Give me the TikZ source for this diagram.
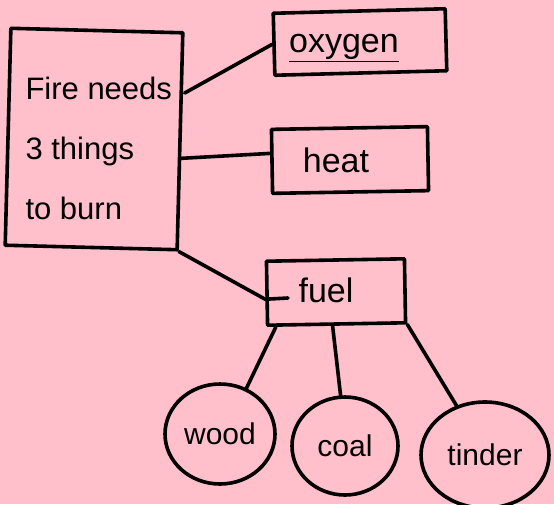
\documentclass[tikz,border=0pt]{standalone}
\usepackage{fontspec}
\setmainfont{Liberation Sans}
\usetikzlibrary{shapes.geometric}
\definecolor{bgpink}{RGB}{255,192,203}
\tikzset{
  ink/.style={line width=3.6pt, line join=round, line cap=round, black},
  boxnode/.style={ink, draw, rectangle, inner sep=0pt, font=\fontsize{30}{34}\selectfont},
  ovalnode/.style={ink, draw, ellipse, inner sep=0pt, font=\fontsize{30}{34}\selectfont},
  boxtext/.style={font=\fontsize{34}{38}\selectfont},
  link/.style={ink}
}
\begin{document}
\begin{tikzpicture}[x=1pt,y=-1pt]
\fill[bgpink] (0,0) rectangle (554,504);
\useasboundingbox (0,0) rectangle (554,504);
% main box
\node[boxnode, minimum width=172pt, minimum height=217pt, rotate=-1.5] (fire) at (94,139) {};
\node[align=left, font=\fontsize{31}{60}\selectfont, anchor=west] (firetext) at (22,148)
  {Fire needs\\3 things\\to burn};
% right boxes
\node[boxnode, minimum width=172pt, minimum height=62pt, rotate=1.5] (oxygen) at (360,42) {};
\node[boxtext] (oxytext) at (344,48) {\underline{oxygen}};
\node[boxnode, minimum width=156pt, minimum height=64pt, rotate=1] (heat) at (350,160) {};
\node[boxtext] (heattext) at (336,160) {heat};
\node[boxnode, minimum width=138pt, minimum height=64pt, rotate=1] (fuel) at (336,292) {};
\node[boxtext] (fueltext) at (326,290) {fuel};
% ovals
\node[ovalnode, minimum width=110pt, minimum height=100pt] (wood) at (220,434) {wood};
\node[ovalnode, minimum width=106pt, minimum height=98pt] (coal) at (345,446) {coal};
\node[ovalnode, minimum width=128pt, minimum height=106pt] (tinder) at (485,455) {tinder};
% connectors
\draw[link] ([yshift=-62pt]fire.north east) -- (oxygen.west);
\draw[link] ([yshift=-17pt]fire.east) -- ([yshift=8pt]heat.west);
\draw[link] (fire.south east) -- ([yshift=-6pt]fuel.west) -- ([xshift=-48pt,yshift=-6pt]fuel.center);
\draw[link] ([xshift=10pt]fuel.south west) -- (wood.60);
\draw[link] ([xshift=-4pt]fuel.south) -- (coal.95);
\draw[link] (fuel.south east) -- (tinder.120);
\end{tikzpicture}
\end{document}
